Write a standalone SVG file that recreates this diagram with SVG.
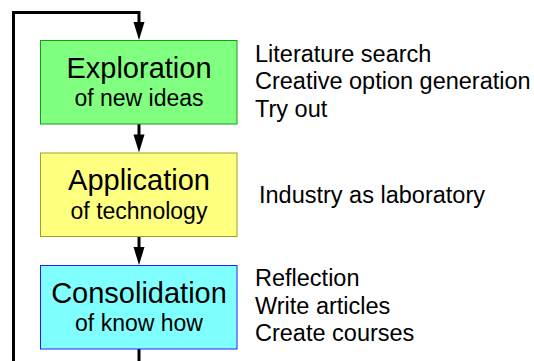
<svg xmlns="http://www.w3.org/2000/svg" width="534" height="361" viewBox="0 0 534 361">
<style>
text { font-family: "Liberation Sans", Arial, sans-serif; fill: #000; }
.t { font-size: 29px; text-anchor: middle; }
.s { font-size: 23px; text-anchor: middle; }
.r { font-size: 23.5px; }
.c { fill: none; stroke: #000; stroke-width: 3; }
</style>
<rect width="534" height="361" fill="#fff"/>
<g id="connectors">
<path class="c" d="M139,361 V349"/>
<path class="c" d="M13.5,361 V12.5 H139 V24"/>
<path d="M133.5,22 L144.5,22 L139,40 Z" fill="#000"/>
<path class="c" d="M139,124 V136"/>
<path d="M133.5,134.5 L144.5,134.5 L139,152.5 Z" fill="#000"/>
<path class="c" d="M139,236.5 V249"/>
<path d="M133.5,247 L144.5,247 L139,265 Z" fill="#000"/>
</g>
<g id="exploration">
<rect x="40.5" y="40.5" width="196.5" height="83.5" fill="#80ff80" stroke="#10a010" stroke-width="1"/>
<text class="t" x="139" y="77.5">Exploration</text>
<text class="s" x="139" y="106">of new ideas</text>
</g>
<g id="application">
<rect x="40.5" y="153" width="196.5" height="83.5" fill="#ffff80" stroke="#a0a020" stroke-width="1"/>
<text class="t" x="139" y="190">Application</text>
<text class="s" x="139" y="218.5">of technology</text>
</g>
<g id="consolidation">
<rect x="40.5" y="265.5" width="196.5" height="83.5" fill="#80ffff" stroke="#2020ff" stroke-width="1"/>
<text class="t" x="139" y="302.5">Consolidation</text>
<text class="s" x="139" y="331">of know how</text>
</g>
<g id="notes">
<text class="r" x="255" y="61.5">Literature search</text>
<text class="r" x="255" y="89">Creative option generation</text>
<text class="r" x="255" y="116.5">Try out</text>
<text class="r" x="259" y="202.5">Industry as laboratory</text>
<text class="r" x="255" y="286">Reflection</text>
<text class="r" x="255" y="313.5">Write articles</text>
<text class="r" x="255" y="341">Create courses</text>
</g>
</svg>
